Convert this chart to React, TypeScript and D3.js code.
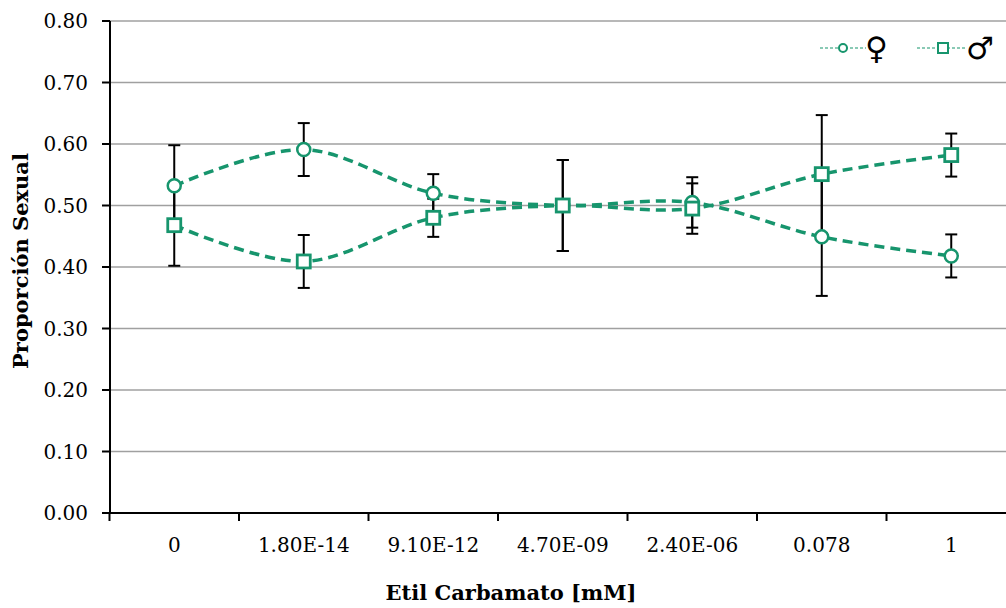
import React from "react";
import * as d3 from "d3";

// Concentrations of ethyl carbamate (x categories)
const categories = ["0", "1.80E-14", "9.10E-12", "4.70E-09", "2.40E-06", "0.078", "1"];
// Sex ratio per treatment
const females = [0.532, 0.591, 0.52, 0.5, 0.505, 0.449, 0.418];
const males = [0.468, 0.409, 0.48, 0.5, 0.495, 0.551, 0.582];
// Standard error (shared by both series)
const errors = [0.066, 0.043, 0.031, 0.074, 0.041, 0.096, 0.035];
const yTicks = [0, 0.1, 0.2, 0.3, 0.4, 0.5, 0.6, 0.7, 0.8];

const W = 1006;
const H = 608;
const GREEN = "#17956d";
const FONT = "'DejaVu Serif', serif";

export default function App() {
  const x = d3.scaleBand<string>().domain(categories).range([109.5, 1016]);
  const y = d3.scaleLinear().domain([0, 0.8]).range([513, 21]);
  const cx = (c: string) => (x(c) as number) + x.bandwidth() / 2;

  const line = d3
    .line<number>()
    .x((_, i) => cx(categories[i]))
    .y((v) => y(v))
    .curve(d3.curveCardinal.tension(0));

  const errBar = (vals: number[], key: string) =>
    vals.map((v, i) => {
      const px = cx(categories[i]);
      const top = y(v + errors[i]);
      const bot = y(v - errors[i]);
      return (
        <g key={key + i} stroke="#000" strokeWidth={2}>
          <line x1={px} x2={px} y1={top} y2={bot} />
          <line x1={px - 6} x2={px + 6} y1={top} y2={top} />
          <line x1={px - 6} x2={px + 6} y1={bot} y2={bot} />
        </g>
      );
    });

  return (
    <svg
      width={W}
      height={H}
      style={{ position: "absolute", left: 0, top: 0, background: "#fff" }}
    >
      <rect width={W} height={H} fill="#fff" />
      {/* horizontal gridlines */}
      {yTicks.map((t) => (
        <line
          key={"g" + t}
          x1={110}
          x2={W}
          y1={y(t)}
          y2={y(t)}
          stroke="#a0a0a0"
          strokeWidth={1.5}
        />
      ))}
      {/* y axis */}
      <line x1={110} x2={110} y1={21} y2={513} stroke="#000" strokeWidth={2} />
      {yTicks.map((t) => (
        <g key={"yt" + t}>
          <line x1={102} x2={110} y1={y(t)} y2={y(t)} stroke="#000" strokeWidth={2} />
          <text
            x={88}
            y={y(t)}
            dy="0.35em"
            textAnchor="end"
            fontFamily={FONT}
            fontSize={20}
            fill="#000"
          >
            {t.toFixed(2)}
          </text>
        </g>
      ))}
      {/* x axis */}
      <line x1={108} x2={W} y1={513} y2={513} stroke="#000" strokeWidth={2} />
      {categories.map((c) => (
        <line
          key={"xt" + c}
          x1={x(c) as number}
          x2={x(c) as number}
          y1={513}
          y2={521}
          stroke="#000"
          strokeWidth={2}
        />
      ))}
      {categories.map((c) => (
        <text
          key={"xl" + c}
          x={cx(c)}
          y={552}
          textAnchor="middle"
          fontFamily={FONT}
          fontSize={20}
          fill="#000"
        >
          {c}
        </text>
      ))}

      {/* axis titles */}
      <text
        x={511}
        y={600}
        textAnchor="middle"
        fontFamily={FONT}
        fontWeight="bold"
        fontSize={21}
        fill="#000"
      >
        Etil Carbamato [mM]
      </text>
      <text
        transform="translate(28,261) rotate(-90)"
        textAnchor="middle"
        fontFamily={FONT}
        fontWeight="bold"
        fontSize={21}
        fill="#000"
      >
        Proporción Sexual
      </text>

      {/* error bars */}
      {errBar(females, "ef")}
      {errBar(males, "em")}

      {/* smoothed dashed lines */}
      <path
        d={line(females) as string}
        fill="none"
        stroke={GREEN}
        strokeWidth={3.5}
        strokeDasharray="10 6"
      />
      <path
        d={line(males) as string}
        fill="none"
        stroke={GREEN}
        strokeWidth={3.5}
        strokeDasharray="10 6"
      />

      {/* markers */}
      {females.map((v, i) => (
        <circle
          key={"cf" + i}
          cx={cx(categories[i])}
          cy={y(v)}
          r={6.5}
          fill="#fff"
          stroke={GREEN}
          strokeWidth={2.5}
        />
      ))}
      {males.map((v, i) => (
        <rect
          key={"rm" + i}
          x={cx(categories[i]) - 6.5}
          y={y(v) - 6.5}
          width={13}
          height={13}
          fill="#fff"
          stroke={GREEN}
          strokeWidth={2.8}
        />
      ))}

      {/* legend */}
      <g>
        <line x1={820} x2={866} y1={48} y2={48} stroke={GREEN} strokeWidth={1.2} strokeDasharray="3 2" />
        <circle cx={843} cy={48} r={4} fill="#fff" stroke={GREEN} strokeWidth={2} />
        <text x={865} y={59} fontFamily="'DejaVu Sans', sans-serif" fontWeight="bold" fontSize={31} fill="#000">
          ♀
        </text>
        <line x1={917} x2={966} y1={48} y2={48} stroke={GREEN} strokeWidth={1.2} strokeDasharray="3 2" />
        <rect x={938} y={43} width={10} height={10} fill="#fff" stroke={GREEN} strokeWidth={2} />
        <text x={966} y={59} fontFamily="'DejaVu Sans', sans-serif" fontWeight="bold" fontSize={31} fill="#000">
          ♂
        </text>
      </g>
    </svg>
  );
}
